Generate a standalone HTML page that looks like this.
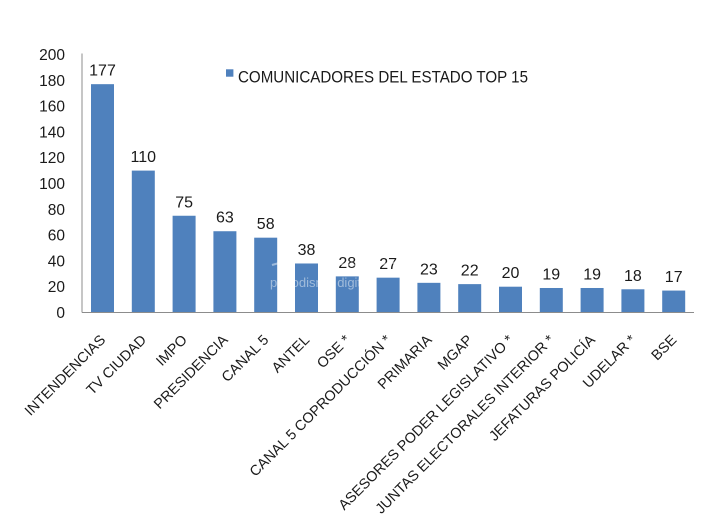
<!DOCTYPE html>
<html>
<head>
<meta charset="utf-8">
<style>
html,body{margin:0;padding:0;background:#fff;}
svg{display:block;}
text{font-family:"Liberation Sans",Arial,sans-serif;fill:#1a1a1a;}
</style>
</head>
<body>
<svg width="720" height="521" viewBox="0 0 720 521" xmlns="http://www.w3.org/2000/svg">
<rect width="720" height="521" fill="#fff"/>
<!-- y tick labels -->
<g font-size="15.5" text-anchor="end">
<text x="65" y="318">0</text>
<text x="65" y="292.2">20</text>
<text x="65" y="266.4">40</text>
<text x="65" y="240.6">60</text>
<text x="65" y="214.8">80</text>
<text x="65" y="189">100</text>
<text x="65" y="163.2">120</text>
<text x="65" y="137.4">140</text>
<text x="65" y="111.6">160</text>
<text x="65" y="85.8">180</text>
<text x="65" y="60">200</text>
</g>
<!-- bars -->
<g fill="#4F81BD">
<rect x="91.0" y="84.17" width="23" height="228.33"/>
<rect x="131.8" y="170.6" width="23" height="141.9"/>
<rect x="172.6" y="215.75" width="23" height="96.75"/>
<rect x="213.4" y="231.23" width="23" height="81.27"/>
<rect x="254.2" y="237.68" width="23" height="74.82"/>
<rect x="295.0" y="263.48" width="23" height="49.02"/>
<rect x="335.8" y="276.38" width="23" height="36.12"/>
<rect x="376.6" y="277.67" width="23" height="34.83"/>
<rect x="417.4" y="282.83" width="23" height="29.67"/>
<rect x="458.2" y="284.12" width="23" height="28.38"/>
<rect x="499.0" y="286.7" width="23" height="25.8"/>
<rect x="539.8" y="287.99" width="23" height="24.51"/>
<rect x="580.6" y="287.99" width="23" height="24.51"/>
<rect x="621.4" y="289.28" width="23" height="23.22"/>
<rect x="662.2" y="290.57" width="23" height="21.93"/>
</g>
<!-- axes -->
<line x1="82" y1="53.5" x2="82" y2="312.5" stroke="#8c8c8c" stroke-width="1"/>
<line x1="82" y1="312.5" x2="694" y2="312.5" stroke="#8c8c8c" stroke-width="1"/>
<!-- value labels -->
<g font-size="16" text-anchor="middle">
<text x="102.5" y="75.7">177</text>
<text x="143.3" y="162.1">110</text>
<text x="184.1" y="207.3">75</text>
<text x="224.9" y="222.7">63</text>
<text x="265.7" y="229.2">58</text>
<text x="306.5" y="255.0">38</text>
<text x="347.3" y="267.9">28</text>
<text x="388.1" y="269.2">27</text>
<text x="428.9" y="274.3">23</text>
<text x="469.7" y="275.6">22</text>
<text x="510.5" y="278.2">20</text>
<text x="551.3" y="279.5">19</text>
<text x="592.1" y="279.5">19</text>
<text x="632.9" y="280.8">18</text>
<text x="673.7" y="282.1">17</text>
</g>
<!-- watermark -->
<g opacity="0.45">
<path d="M272 265 q30 -10 60 -2 q40 6 80 -4 q20 -5 40 2" stroke="#ffffff" stroke-width="2" fill="none"/>
<text x="270" y="287" font-size="13" style="fill:#ffffff">periodismo digital</text>
</g>
<!-- legend -->
<rect x="226" y="69.3" width="7.4" height="7.4" fill="#4F81BD"/>
<text x="238" y="82.5" font-size="16.5" textLength="290" lengthAdjust="spacingAndGlyphs">COMUNICADORES DEL ESTADO TOP 15</text>
<!-- x labels -->
<g font-size="14.4" text-anchor="end">
<text transform="translate(102.5,337) rotate(-45)" x="0" y="5.3">INTENDENCIAS</text>
<text transform="translate(143.3,337) rotate(-45)" x="0" y="5.3">TV CIUDAD</text>
<text transform="translate(184.1,337) rotate(-45)" x="0" y="5.3">IMPO</text>
<text transform="translate(224.9,337) rotate(-45)" x="0" y="5.3">PRESIDENCIA</text>
<text transform="translate(265.7,337) rotate(-45)" x="0" y="5.3">CANAL 5</text>
<text transform="translate(306.5,337) rotate(-45)" x="0" y="5.3">ANTEL</text>
<text transform="translate(347.3,337) rotate(-45)" x="0" y="5.3">OSE *</text>
<text transform="translate(388.1,337) rotate(-45)" x="0" y="5.3">CANAL 5 COPRODUCCIÓN *</text>
<text transform="translate(428.9,337) rotate(-45)" x="0" y="5.3">PRIMARIA</text>
<text transform="translate(469.7,337) rotate(-45)" x="0" y="5.3">MGAP</text>
<text transform="translate(510.5,337) rotate(-45)" x="0" y="5.3">ASESORES PODER LEGISLATIVO *</text>
<text transform="translate(551.3,337) rotate(-45)" x="0" y="5.3">JUNTAS ELECTORALES INTERIOR *</text>
<text transform="translate(592.1,337) rotate(-45)" x="0" y="5.3">JEFATURAS POLICÍA</text>
<text transform="translate(632.9,337) rotate(-45)" x="0" y="5.3">UDELAR *</text>
<text transform="translate(673.7,337) rotate(-45)" x="0" y="5.3">BSE</text>
</g>
</svg>
</body>
</html>
